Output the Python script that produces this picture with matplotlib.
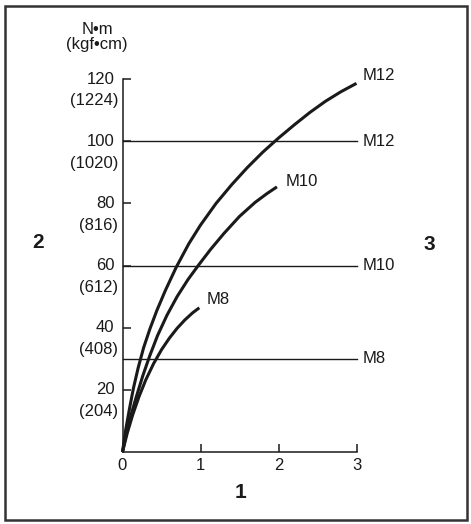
import matplotlib
matplotlib.use("Agg")
import matplotlib.pyplot as plt
from matplotlib.patches import Rectangle

plt.rcParams['font.family'] = ['Liberation Sans', 'DejaVu Sans']

W, H = 471, 524

# torque curves (x: axis 1, y: N·m)
m12_x = [0, 0.04, 0.09, 0.14, 0.2, 0.27, 0.35, 0.44, 0.55, 0.69, 0.85, 1.0, 1.2, 1.4, 1.6, 1.8, 2.0, 2.2, 2.4, 2.6, 2.8, 3.0]
m12_y = [0, 7, 14, 20.5, 27, 33.5, 39.5, 45.5, 52, 59.5, 67, 73, 80, 86, 91.5, 96.5, 101, 105.2, 109.2, 112.8, 115.9, 118.6]
m10_x = [0, 0.05, 0.11, 0.18, 0.26, 0.35, 0.45, 0.57, 0.7, 0.84, 0.98, 1.13, 1.3, 1.5, 1.7, 1.85, 1.98]
m10_y = [0, 6, 12, 18, 24.5, 31, 37.5, 44, 50, 55.5, 60.3, 65.2, 70.3, 75.8, 80.3, 83.1, 85.3]
m8_x = [0, 0.06, 0.13, 0.21, 0.3, 0.4, 0.5, 0.6, 0.7, 0.8, 0.9, 0.985]
m8_y = [0, 6, 11.9, 17.7, 23.3, 28.5, 32.9, 36.6, 39.8, 42.5, 44.8, 46.4]

curves = [("M12", m12_x, m12_y, (6, 8)),
          ("M10", m10_x, m10_y, (9, 5)),
          ("M8", m8_x, m8_y, (7, 8))]

# horizontal limit lines
limit_names = ["M12", "M10", "M8"]
limit_values = [100, 60, 30]

y_ticks = [20, 40, 60, 80, 100, 120]
y_kgf = ["(204)", "(408)", "(612)", "(816)", "(1020)", "(1224)"]
x_ticks = [0, 1, 2, 3]

ink = "#1a1a1a"
fs = 12

fig = plt.figure(figsize=(W / 100, H / 100), dpi=100)
ax = fig.add_axes([122.5 / W, 72 / H, 234 / W, 373 / H])
ax.set_xlim(0, 3)
ax.set_ylim(0, 120)

for name, xs, ys, off in curves:
    ax.plot(xs, ys, color=ink, lw=2.2, clip_on=False, solid_capstyle='butt',
            solid_joinstyle='round')
    ax.annotate(name, (xs[-1], ys[-1]), xytext=off, textcoords='offset pixels',
                ha='left', va='center', fontsize=fs, color=ink)

for name, v in zip(limit_names, limit_values):
    ax.plot([0, 3], [v, v], color=ink, lw=1.0, clip_on=False)
    ax.annotate(name, (3, v), xytext=(6, 0), textcoords='offset pixels',
                ha='left', va='center', fontsize=fs, color=ink)

for s in ["top", "right"]:
    ax.spines[s].set_visible(False)
for s in ["left", "bottom"]:
    ax.spines[s].set_color(ink)
    ax.spines[s].set_linewidth(1.1)

ax.set_xticks(x_ticks)
ax.set_yticks(y_ticks)
ax.set_xticklabels([])
ax.set_yticklabels([])
ax.tick_params(which='both', direction='in', length=6, width=1.1, color=ink)

for v, k in zip(y_ticks, y_kgf):
    ax.annotate(str(v), (0, v), xytext=(-8, 0), textcoords='offset pixels',
                ha='right', va='center', fontsize=fs, color=ink)
    ax.annotate(k, (0, v), xytext=(-4, -22), textcoords='offset pixels',
                ha='right', va='center', fontsize=fs, color=ink)
for v in x_ticks:
    ax.annotate(str(v), (v, 0), xytext=(0, -13), textcoords='offset pixels',
                ha='center', va='center', fontsize=fs, color=ink)

fig.text(97 / W, 1 - 30 / H, "N•m", ha='center', va='center', fontsize=fs, color=ink)
fig.text(97 / W, 1 - 45 / H, "(kgf•cm)", ha='center', va='center', fontsize=fs, color=ink)

fig.text(241 / W, 1 - 493 / H, "1", ha='center', va='center', fontsize=15, fontweight='bold', color=ink)
fig.text(38 / W, 1 - 243 / H, "2", ha='center', va='center', fontsize=15, fontweight='bold', color=ink)
fig.text(429 / W, 1 - 244 / H, "3", ha='center', va='center', fontsize=15, fontweight='bold', color=ink)

fig.add_artist(Rectangle((4.7 / W, 1 - 520 / H), 462 / W, 514 / H, transform=fig.transFigure,
                         fill=False, edgecolor="#333333", lw=1.8))

fig.savefig("out.png", dpi=100)
